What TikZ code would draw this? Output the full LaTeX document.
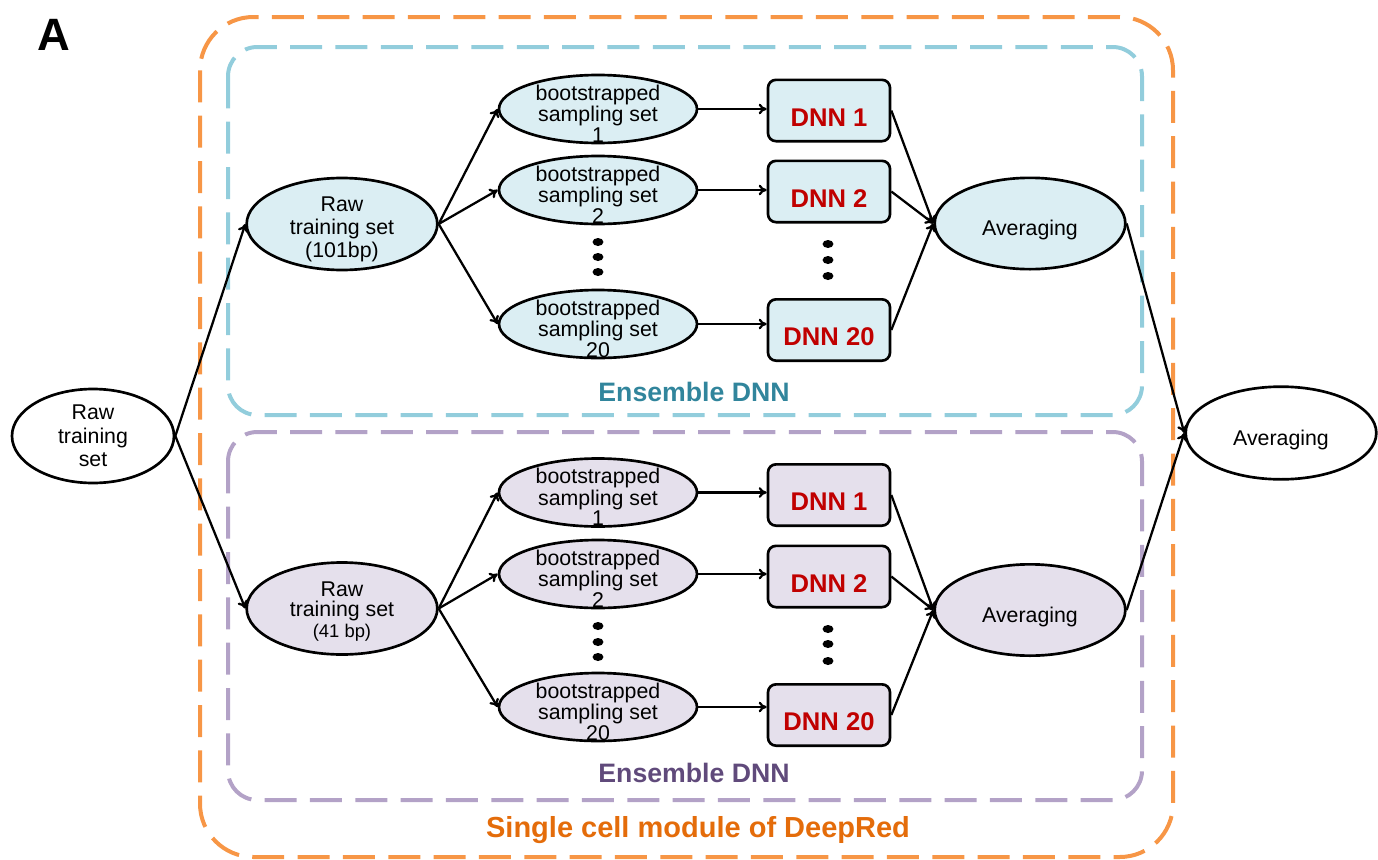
\documentclass[tikz,border=0pt]{standalone}
\usepackage{fontspec}
\setmainfont{Liberation Sans}
\usetikzlibrary{shapes.geometric,arrows.meta}

\definecolor{bluefill}{HTML}{DBEEF3}
\definecolor{bluedash}{HTML}{92CDDC}
\definecolor{bluetxt}{HTML}{31859C}
\definecolor{purplefill}{HTML}{E5E0EC}
\definecolor{purpledash}{HTML}{B3A2C7}
\definecolor{purpletxt}{HTML}{604A7B}
\definecolor{orangedash}{HTML}{F79646}
\definecolor{orangetxt}{HTML}{E46C0A}
\definecolor{dnnred}{HTML}{C00000}

\begin{document}
\begin{tikzpicture}[x=0.75pt,y=-0.75pt,
  txt/.style={align=center, inner sep=0pt, font=\fontsize{16}{13}\selectfont},
  ell/.style={ellipse, draw=black, line width=2pt, inner sep=0pt},
  rawell/.style={ell, minimum width=143pt, minimum height=69pt},
  bsell/.style={ell, minimum width=148.5pt, minimum height=51pt},
  avgell/.style={ell, minimum width=143pt, minimum height=68.5pt},
  dnnbox/.style={draw=black, line width=2pt, rounded corners=6pt,
    minimum width=91.5pt, minimum height=46pt, inner sep=0pt},
  dnntxt/.style={inner sep=0pt, text=dnnred, font=\fontsize{19.2}{22}\selectfont\bfseries},
  edge/.style={line width=1.7pt, -{To[length=6pt,width=8pt]}},
  frame/.style={line width=3pt, dash pattern=on 24pt off 10pt},
  grouplabel/.style={font=\fontsize{20}{24}\selectfont\bfseries, inner sep=0pt},
  dot/.style={x radius=4.1pt, y radius=3pt}
]
\path[use as bounding box] (0,0) rectangle (1378,860);

% panel letter
\node[font=\fontsize{34}{40}\selectfont\bfseries, inner sep=0pt] (panel) at (54,35) {A};

% dashed group frames
\draw[frame, orangedash, rounded corners=40pt] (200,17) rectangle (1173,857);
\draw[frame, bluedash, rounded corners=22pt] (228,47) rectangle (1142,415);
\draw[frame, purpledash, rounded corners=22pt] (228,432) rectangle (1142,800);

\node[grouplabel, text=bluetxt] (tens) at (694,392) {Ensemble DNN};
\node[grouplabel, text=purpletxt] (bens) at (694,773) {Ensemble DNN};
\node[font=\fontsize{21.75}{26}\selectfont\bfseries, text=orangetxt, inner sep=0pt] (module) at (698,830) {Single cell module of DeepRed};

% input and final output
\node[ell, fill=white, minimum width=121.5pt, minimum height=70.5pt,
  label={[txt, font=\fontsize{16}{17.5}\selectfont]center:Raw\\training\\set}] (lraw) at (93,436) {};
\node[avgell, fill=white, minimum height=69.5pt,
  label={[txt, yshift=-5.2pt]center:Averaging}] (ravg) at (1281,433) {};

% upper ensemble (101bp)
\node[rawell, fill=bluefill,
  label={[txt, font=\fontsize{16}{17}\selectfont, yshift=-4.1pt]center:Raw\\training set\\(101bp)}] (traw) at (342,224) {};
\node[bsell, fill=bluefill, label={[txt, yshift=-3.4pt]center:bootstrapped\\sampling set\\1}] (tbs1) at (598,109) {};
\node[bsell, fill=bluefill, label={[txt, yshift=-3.4pt]center:bootstrapped\\sampling set\\2}] (tbs2) at (598,190) {};
\node[bsell, fill=bluefill, label={[txt, yshift=-3.4pt]center:bootstrapped\\sampling set\\20}] (tbs20) at (598,324) {};
\node[dnnbox, fill=bluefill, label={[dnntxt, yshift=-5.2pt]center:DNN 1}] (tdnn1) at (829,110.5) {};
\node[dnnbox, fill=bluefill, label={[dnntxt, yshift=-5.2pt]center:DNN 2}] (tdnn2) at (829,191.5) {};
\node[dnnbox, fill=bluefill, label={[dnntxt, yshift=-5.2pt]center:DNN 20}] (tdnn20) at (829,330) {};
\node[avgell, fill=bluefill, label={[txt, yshift=-4.9pt]center:Averaging}] (tavg) at (1030,223.5) {};

\fill (598,242) ellipse [dot];
\fill (598,257) ellipse [dot];
\fill (598,272) ellipse [dot];
\fill (828,244) ellipse [dot];
\fill (828,260) ellipse [dot];
\fill (828,276) ellipse [dot];

% lower ensemble (41 bp)
\node[rawell, fill=purplefill,
  label={[txt, font=\fontsize{16}{15.5}\selectfont, yshift=-2.2pt]center:Raw\\training set\\{\fontsize{13.8}{15}\selectfont(41 bp)}}] (braw) at (342,608.5) {};
\node[bsell, fill=purplefill, label={[txt, yshift=-3.4pt]center:bootstrapped\\sampling set\\1}] (bbs1) at (598,492.5) {};
\node[bsell, fill=purplefill, label={[txt, yshift=-3.4pt]center:bootstrapped\\sampling set\\2}] (bbs2) at (598,574) {};
\node[bsell, fill=purplefill, label={[txt, yshift=-3.4pt]center:bootstrapped\\sampling set\\20}] (bbs20) at (598,707) {};
\node[dnnbox, fill=purplefill, label={[dnntxt, yshift=-5.2pt]center:DNN 1}] (bdnn1) at (829,495) {};
\node[dnnbox, fill=purplefill, label={[dnntxt, yshift=-5.2pt]center:DNN 2}] (bdnn2) at (829,576.5) {};
\node[dnnbox, fill=purplefill, label={[dnntxt, yshift=-5.2pt]center:DNN 20}] (bdnn20) at (829,715) {};
\node[avgell, fill=purplefill, label={[txt, yshift=-4.9pt]center:Averaging}] (bavg) at (1030,610) {};

\fill (598,626) ellipse [dot];
\fill (598,642) ellipse [dot];
\fill (598,657) ellipse [dot];
\fill (828,629) ellipse [dot];
\fill (828,644) ellipse [dot];
\fill (828,661) ellipse [dot];

% connectors
\draw[edge] (lraw.east) -- (traw.west);
\draw[edge] (lraw.east) -- (braw.west);
\foreach \p in {t,b} {
  \foreach \i in {1,2,20} {
    \draw[edge] (\p raw.east) -- (\p bs\i.west);
    \draw[edge] (\p bs\i.east) -- (\p bs\i.east -| \p dnn\i.west);
    \draw[edge] (\p dnn\i.east) -- (\p avg.west);
  }
  \draw[edge] (\p avg.east) -- (ravg.west);
}
\end{tikzpicture}
\end{document}
